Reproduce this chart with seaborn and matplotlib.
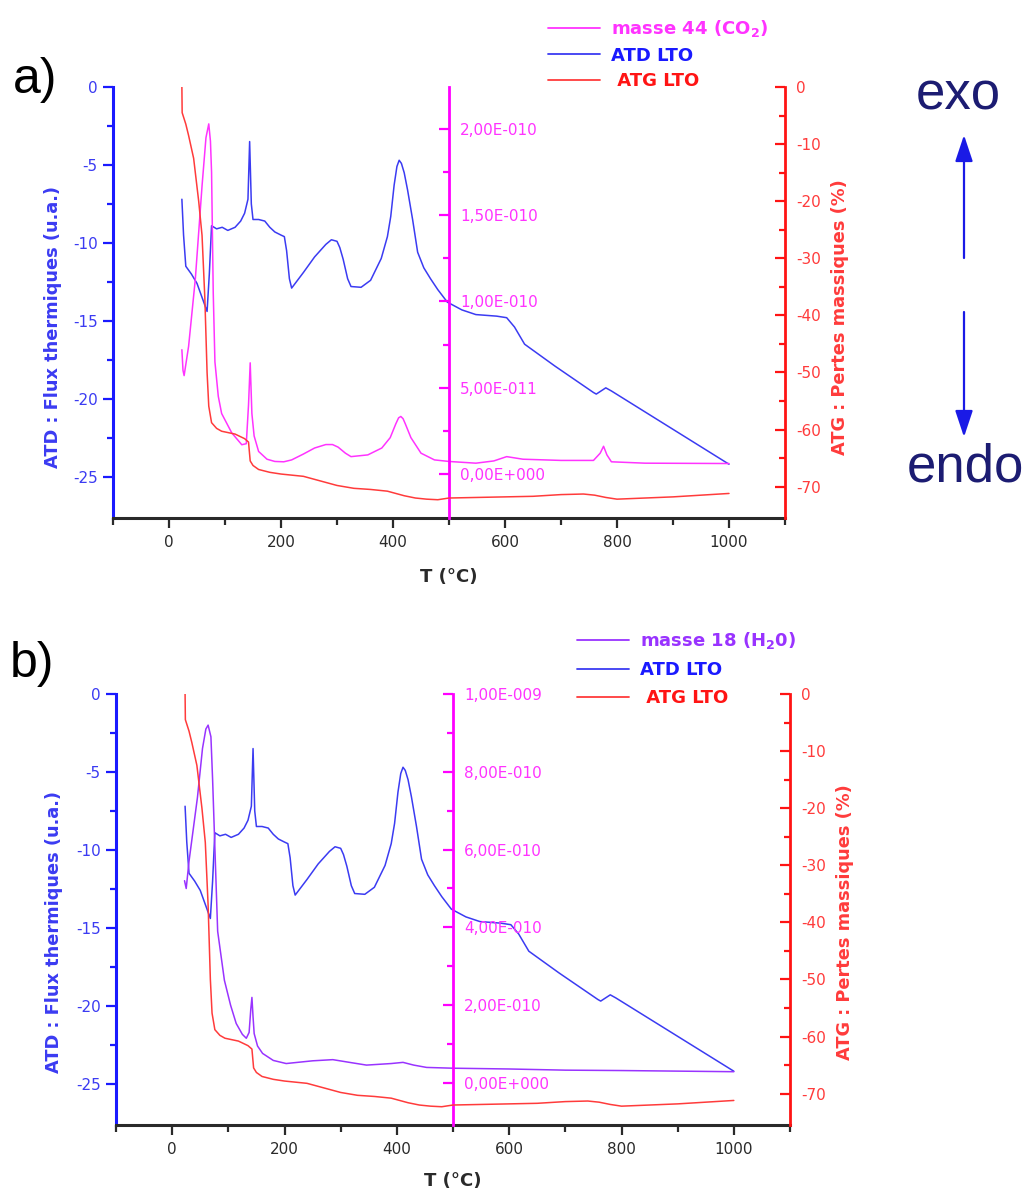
import numpy as np
import pandas as pd
import matplotlib
matplotlib.use("Agg")
import matplotlib.pyplot as plt
import seaborn as sns
from matplotlib.ticker import FixedLocator, FuncFormatter

# --- thermal analysis of LTO: temperature (°C) and signals -------------------
T_atd = [23, 26, 30, 40, 50, 60, 68, 72, 76, 85, 95, 105, 118, 128, 135, 141,
         144, 147, 150, 160, 171, 180, 189, 200, 206, 210, 215, 219, 240, 260,
         280, 290, 300, 305, 311, 319, 325, 343, 360, 379, 390, 396, 402, 407,
         411, 415, 420, 426, 435, 444, 455, 467, 480, 497, 523, 548, 585, 603,
         617, 635, 689, 758, 763, 780, 790, 1000]
atd_flux = [-7.2, -9.5, -11.5, -12.0, -12.6, -13.6, -14.4, -12.0, -8.9, -9.1,
            -9.0, -9.2, -9.0, -8.6, -8.1, -7.2, -3.5, -7.5, -8.5, -8.5, -8.6,
            -9.0, -9.3, -9.5, -9.6, -10.5, -12.3, -12.9, -11.9, -10.9, -10.1,
            -9.8, -9.9, -10.3, -11.05, -12.3, -12.8, -12.85, -12.4, -11.0,
            -9.6, -8.3, -6.3, -5.1, -4.7, -4.9, -5.5, -6.6, -8.5, -10.6, -11.6,
            -12.3, -13.0, -13.8, -14.3, -14.6, -14.7, -14.8, -15.4, -16.5,
            -17.9, -19.6, -19.7, -19.3, -19.5, -24.2]

T_atg = [23, 23.5, 30, 35, 44, 53, 59, 64, 68, 71, 76, 85, 94, 118, 135, 142,
         145, 150, 160, 180, 200, 240, 270, 300, 330, 360, 390, 420, 440, 460,
         480, 500, 550, 600, 650, 700, 740, 760, 780, 800, 850, 900, 950, 1000]
atg_loss = [0, -4.5, -6.5, -8.5, -12.5, -20, -26, -37, -50, -55.9, -58.8,
            -59.8, -60.3, -60.8, -61.6, -62.2, -65.5, -66.3, -67.0, -67.5,
            -67.8, -68.2, -69.0, -69.8, -70.3, -70.5, -70.8, -71.6, -72.0,
            -72.2, -72.3, -72.0, -71.9, -71.8, -71.7, -71.4, -71.3, -71.5,
            -71.9, -72.2, -72.0, -71.8, -71.5, -71.2]

T_m44 = [23, 25, 27, 35, 47, 59, 66, 71, 74, 76, 79, 82, 88, 94, 112, 130,
         138, 142, 145, 148, 152, 160, 175, 189, 205, 219, 240, 260, 280, 292,
         302, 315, 325, 355, 380, 395, 405, 410, 414, 418, 422, 432, 450, 474,
         500, 548, 580, 603, 632, 700, 758, 770, 776, 782, 790, 850, 1000]
m44 = [7.2e-11, 6.0e-11, 5.7e-11, 7.4e-11, 11.3e-11, 16.7e-11, 19.5e-11,
       20.3e-11, 19.3e-11, 17.5e-11, 10.5e-11, 6.5e-11, 4.5e-11, 3.5e-11,
       2.38e-11, 1.69e-11, 1.75e-11, 4.0e-11, 6.44e-11, 3.5e-11, 2.2e-11,
       1.3e-11, 0.85e-11, 0.72e-11, 0.7e-11, 0.81e-11, 1.15e-11, 1.5e-11,
       1.7e-11, 1.7e-11, 1.55e-11, 1.2e-11, 1.0e-11, 1.1e-11, 1.5e-11,
       2.1e-11, 2.9e-11, 3.25e-11, 3.33e-11, 3.2e-11, 2.9e-11, 2.1e-11,
       1.2e-11, 0.81e-11, 0.72e-11, 0.62e-11, 0.75e-11, 1.0e-11, 0.85e-11,
       0.78e-11, 0.78e-11, 1.2e-11, 1.6e-11, 1.1e-11, 0.7e-11, 0.62e-11,
       0.6e-11]

T_m18 = [22, 25, 30, 45, 54, 60, 64, 69, 72, 75, 81, 93, 104, 114, 125, 132,
         137, 140, 142, 144, 146, 152, 161, 180, 203, 250, 286, 320, 346, 390,
         411, 430, 453, 500, 600, 700, 800, 1000]
m18 = [5.2e-10, 5.0e-10, 5.7e-10, 7.34e-10, 8.6e-10, 9.1e-10, 9.2e-10,
       8.9e-10, 7.8e-10, 6.5e-10, 3.9e-10, 2.64e-10, 2.0e-10, 1.53e-10,
       1.25e-10, 1.15e-10, 1.3e-10, 1.9e-10, 2.2e-10, 1.7e-10, 1.27e-10,
       0.95e-10, 0.76e-10, 0.58e-10, 0.5e-10, 0.57e-10, 0.6e-10, 0.52e-10,
       0.46e-10, 0.5e-10, 0.53e-10, 0.46e-10, 0.40e-10, 0.38e-10, 0.36e-10,
       0.33e-10, 0.32e-10, 0.29e-10]

x_major = [0, 200, 400, 600, 800, 1000]
x_minor = [-100, 100, 300, 500, 700, 900, 1100]
atd_major = [0, -5, -10, -15, -20, -25]
atd_minor = [-2.5, -7.5, -12.5, -17.5, -22.5]
atg_major = [0, -10, -20, -30, -40, -50, -60, -70]
atg_minor = [-5, -15, -25, -35, -45, -55, -65]
m44_major = [0, 5e-11, 1e-10, 1.5e-10, 2e-10]
m44_minor = [2.5e-11, 7.5e-11, 1.25e-10, 1.75e-10]
m18_major = [0, 2e-10, 4e-10, 6e-10, 8e-10, 1e-9]
m18_minor = [1e-10, 3e-10, 5e-10, 7e-10, 9e-10]

# --- style ----------------------------------------------------------------------
sns.set_style("white")
plt.rcParams["font.family"] = ["DejaVu Sans"]
plt.rcParams["mathtext.default"] = "regular"

BLUE_LINE = "#3b3bf2"
BLUE_AX = "#1a1aff"
MAGENTA = "#ff33ff"
MAGENTA_AX = "#ff00ff"
RED = "#ff3b3b"
RED_AX = "#ff1414"
PURPLE = "#9933ff"
NAVY = "#1c1c72"
DARK = "#2a2a2a"

FW, FH = 1033, 1189
fig = plt.figure(figsize=(FW / 100, FH / 100), dpi=100)


def sci_comma(v, _pos=None):
    if v == 0:
        return "0,00E+000"
    e = int(np.floor(np.log10(abs(v)) + 1e-9))
    m = v / 10 ** e
    sign = "-" if e < 0 else "+"
    return f"{m:.2f}".replace(".", ",") + f"E{sign}{abs(e):03d}"


def frac_rect(left, top, right, bottom):
    return [left / FW, 1 - bottom / FH, (right - left) / FW, (bottom - top) / FH]


def panel(rect, T_mass, mass, mass_color, mass_label, mass_lim, mass_major,
          mass_minor, label_pos, xlabel_y, legend_xy, legend_gap, tag, tag_xy):
    ax = fig.add_axes(rect)
    ax_m = ax.twinx()
    ax_r = ax.twinx()

    sns.lineplot(x=T_atd, y=atd_flux, ax=ax, color=BLUE_LINE, lw=1.1,
                 estimator=None, sort=False)
    sns.lineplot(x=T_mass, y=mass, ax=ax_m, color=mass_color, lw=1.1,
                 estimator=None, sort=False)
    sns.lineplot(x=T_atg, y=atg_loss, ax=ax_r, color=RED, lw=1.1,
                 estimator=None, sort=False)
    h_atd, h_mass, h_atg = ax.lines[-1], ax_m.lines[-1], ax_r.lines[-1]

    ax.set_xlim(-100, 1100)
    ax.set_ylim(-27.65, 0)
    ax_m.set_ylim(*mass_lim)
    ax_r.set_ylim(-75.5, 0)

    # spines
    for s in ("top", "right"):
        ax.spines[s].set_visible(False)
    ax.spines["left"].set_color(BLUE_AX)
    ax.spines["left"].set_linewidth(2.2)
    ax.spines["bottom"].set_color(DARK)
    ax.spines["bottom"].set_linewidth(2.2)
    for a, col in ((ax_m, MAGENTA_AX), (ax_r, RED_AX)):
        for s in ("top", "bottom", "left"):
            a.spines[s].set_visible(False)
        a.spines["right"].set_color(col)
        a.spines["right"].set_linewidth(2.0)
    ax_m.spines["right"].set_position(("data", 500))

    # ticks
    ax.xaxis.set_major_locator(FixedLocator(x_major))
    ax.xaxis.set_minor_locator(FixedLocator(x_minor))
    ax.yaxis.set_major_locator(FixedLocator(atd_major))
    ax.yaxis.set_minor_locator(FixedLocator(atd_minor))
    ax.yaxis.set_major_formatter(FuncFormatter(lambda v, p: f"{v:g}"))
    ax.tick_params(axis="x", which="both", direction="out", colors=DARK,
                   labelsize=11, width=1.6, pad=5, bottom=True)
    ax.tick_params(axis="x", which="major", length=7)
    ax.tick_params(axis="x", which="minor", length=5)
    ax.tick_params(axis="y", which="both", direction="out", colors=BLUE_AX,
                   labelcolor=BLUE_LINE, labelsize=11, width=1.6, pad=4, left=True)
    ax.tick_params(axis="y", which="major", length=7)
    ax.tick_params(axis="y", which="minor", length=4)

    ax_m.yaxis.set_major_locator(FixedLocator(mass_major))
    ax_m.yaxis.set_minor_locator(FixedLocator(mass_minor))
    ax_m.yaxis.set_major_formatter(FuncFormatter(sci_comma))
    ax_m.tick_params(axis="y", which="both", direction="in", colors=MAGENTA_AX,
                     labelcolor=MAGENTA, labelsize=11, width=1.6, pad=8, right=True)
    ax_m.tick_params(axis="y", which="major", length=7)
    ax_m.tick_params(axis="y", which="minor", length=4)

    ax_r.yaxis.set_major_locator(FixedLocator(atg_major))
    ax_r.yaxis.set_minor_locator(FixedLocator(atg_minor))
    ax_r.yaxis.set_major_formatter(FuncFormatter(lambda v, p: f"{v:g}"))
    ax_r.tick_params(axis="y", which="both", direction="in", colors=RED_AX,
                     labelcolor=RED, labelsize=11, width=1.6, pad=8, right=True)
    ax_r.tick_params(axis="y", which="major", length=7)
    ax_r.tick_params(axis="y", which="minor", length=4)

    # axis titles
    ax.set_xlabel("T (°C)", fontsize=13, fontweight="bold", color=DARK)
    ax.xaxis.set_label_coords(0.5, xlabel_y)
    ax.set_ylabel("ATD : Flux thermiques (u.a.)", fontsize=12.8,
                  fontweight="bold", color=BLUE_LINE)
    ax.yaxis.set_label_coords(label_pos[0], label_pos[1])
    ax_r.set_ylabel("ATG : Pertes massiques (%)", fontsize=12.8,
                    fontweight="bold", color=RED, rotation=90)
    ax_r.yaxis.set_label_coords(label_pos[2], label_pos[3])

    # legend above the plot
    leg = fig.legend([h_mass, h_atd, h_atg], [mass_label, "ATD LTO", " ATG LTO"],
                     loc="upper left",
                     bbox_to_anchor=(legend_xy[0] / FW, 1 - legend_xy[1] / FH),
                     bbox_transform=fig.transFigure, frameon=False,
                     borderpad=0, borderaxespad=0, handlelength=2.9,
                     handletextpad=0.6, labelspacing=legend_gap,
                     prop={"size": 13, "weight": "bold"})
    for txt, col in zip(leg.get_texts(), [mass_color, BLUE_AX, RED_AX]):
        txt.set_color(col)
    for ln in leg.get_lines():
        ln.set_linewidth(1.3)

    fig.text(tag_xy[0] / FW, 1 - tag_xy[1] / FH, tag, fontsize=36,
             family="Liberation Sans", color="black", ha="center", va="center")
    return ax


panel(frac_rect(113, 87, 785, 518), T_m44, m44, MAGENTA,
      "masse 44 (CO$_2$)", (-2.56e-11, 2.244e-10), m44_major, m44_minor,
      (-0.076, 0.442, 1.068, 0.465), -0.115, (548, 18), 0.42, "a)", (35, 80))

panel(frac_rect(116, 694, 790, 1125), T_m18, m18, PURPLE,
      "masse 18 (H$_2$0)", (-1.08e-10, 1.0e-9), m18_major, m18_minor,
      (-0.079, 0.447, 1.068, 0.47), -0.108, (577, 630), 0.55, "b)", (32, 664))

# exo / endo indicators
fig.text(958 / FW, 1 - 95 / FH, "exo", fontsize=38, color=NAVY,
         family="Liberation Sans", ha="center", va="center")
fig.text(965 / FW, 1 - 467 / FH, "endo", fontsize=38, color=NAVY,
         family="Liberation Sans", ha="center", va="center")
arrow = dict(arrowstyle="-|>,head_length=0.9,head_width=0.3", color="#1a1ae6",
             lw=1.6, mutation_scale=18, shrinkA=0, shrinkB=0)
fig.add_artist(matplotlib.patches.FancyArrowPatch(
    (964 / FW, 1 - 258 / FH), (964 / FW, 1 - 135 / FH),
    transform=fig.transFigure, **arrow))
fig.add_artist(matplotlib.patches.FancyArrowPatch(
    (964 / FW, 1 - 312 / FH), (964 / FW, 1 - 437 / FH),
    transform=fig.transFigure, **arrow))

fig.savefig("out.png", dpi=100)
